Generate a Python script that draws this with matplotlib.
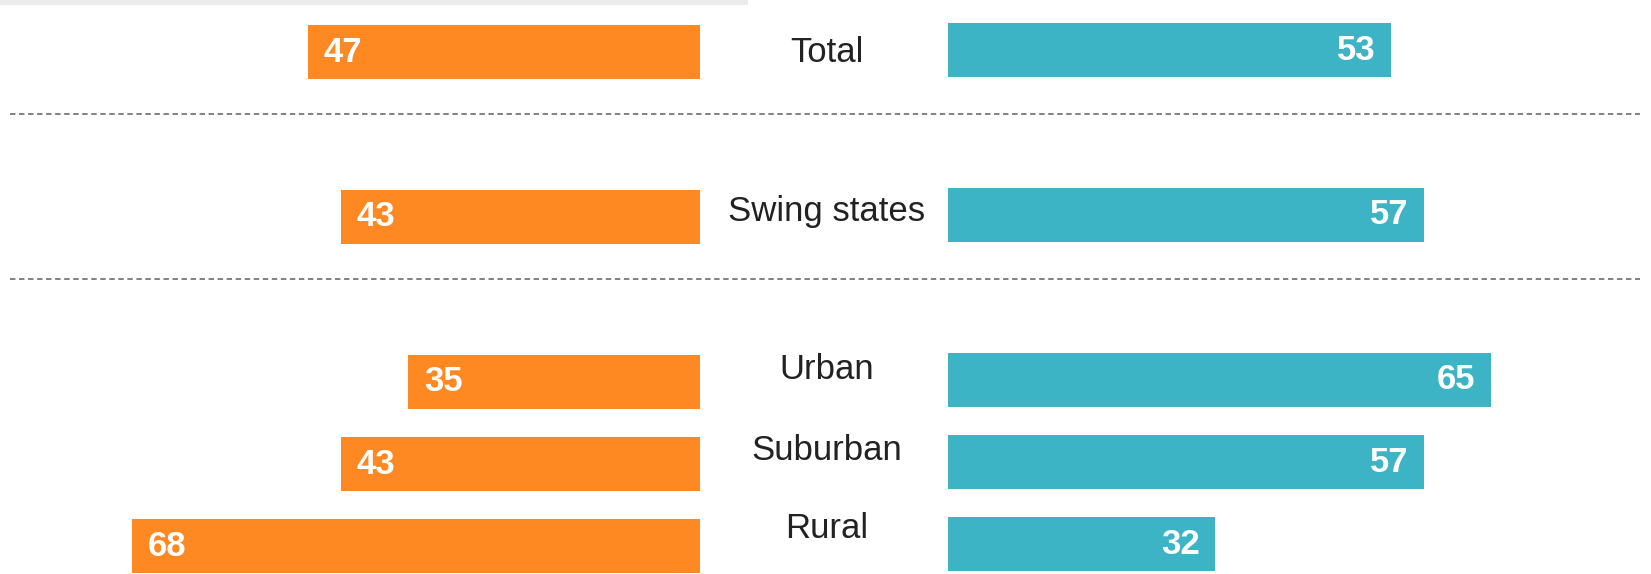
import matplotlib
matplotlib.use('Agg')
import matplotlib.pyplot as plt
import matplotlib.transforms as mtransforms
from matplotlib.patches import Rectangle

# --- data ---
categories = ['Total', 'Swing states', 'Urban', 'Suburban', 'Rural']
left_values = [47, 43, 35, 43, 68]
right_values = [53, 57, 65, 57, 32]
row_pos = [0, 2, 4, 5, 6]
separators = [0.75, 2.75]

# --- style ---
orange = '#FE8821'
teal = '#3DB3C6'
font = ['Liberation Sans Narrow', 'Liberation Sans', 'DejaVu Sans']
label_shift_px = [0, -5, -12, -14, -18]   # category labels sit a bit above bar centre

W, H, DPI = 1651, 574, 100
fig = plt.figure(figsize=(W / DPI, H / DPI), dpi=DPI)

px_per_unit = 8.35
row_px = 82.4
top_px = 52
ylim = ((H - top_px) / row_px, -top_px / row_px)

# left (orange) axes, runs from fig left to x=700px, zero at right
axl = fig.add_axes([0, 0, 700 / W, 1])
axl.set_xlim(700 / px_per_unit, 0)
axl.set_ylim(*ylim)
axl.barh(row_pos, left_values, height=0.655, color=orange)
for y, v in zip(row_pos, left_values):
    axl.annotate(str(v), (v, y), xytext=(11.5, 0), textcoords='offset points',
                 ha='left', va='center', color='white', fontsize=25,
                 fontweight='bold', family=font)
axl.axis('off')

# right (teal) axes, starts at x=948px, slightly higher bars
axr = fig.add_axes([948 / W, 0, (W - 948) / W, 1])
axr.set_xlim(0, (W - 948) / px_per_unit)
shift = 2 / row_px
axr.set_ylim(ylim[0] + shift, ylim[1] + shift)
axr.barh(row_pos, right_values, height=0.655, color=teal)
for y, v in zip(row_pos, right_values):
    axr.annotate(str(v), (v, y), xytext=(-11, 0), textcoords='offset points',
                 ha='right', va='center', color='white', fontsize=25,
                 fontweight='bold', family=font)
axr.axis('off')

# category labels in the middle gap
for cat, y, dy in zip(categories, row_pos, label_shift_px):
    yfig = axl.transData.transform((0, y))[1] / H
    trans = mtransforms.offset_copy(fig.transFigure, fig=fig, x=0, y=-dy, units='dots')
    fig.text(827 / W, yfig, cat, transform=trans, ha='center', va='center',
             fontsize=25, color='#222222', family=font)

# dashed separators across the full width
for s in separators:
    yfig = axl.transData.transform((0, s))[1] / H
    fig.add_artist(plt.Line2D([10 / W, 1640 / W], [yfig, yfig], transform=fig.transFigure,
                              color='#777777', linewidth=1.3, linestyle=(0, (3, 2))))

# light grey strip at very top
fig.add_artist(Rectangle((0, 1 - 4.5 / H), 748 / W, 4.5 / H, transform=fig.transFigure,
                         facecolor='#EBEBEB', edgecolor='none'))

fig.savefig('out.png', dpi=DPI)
